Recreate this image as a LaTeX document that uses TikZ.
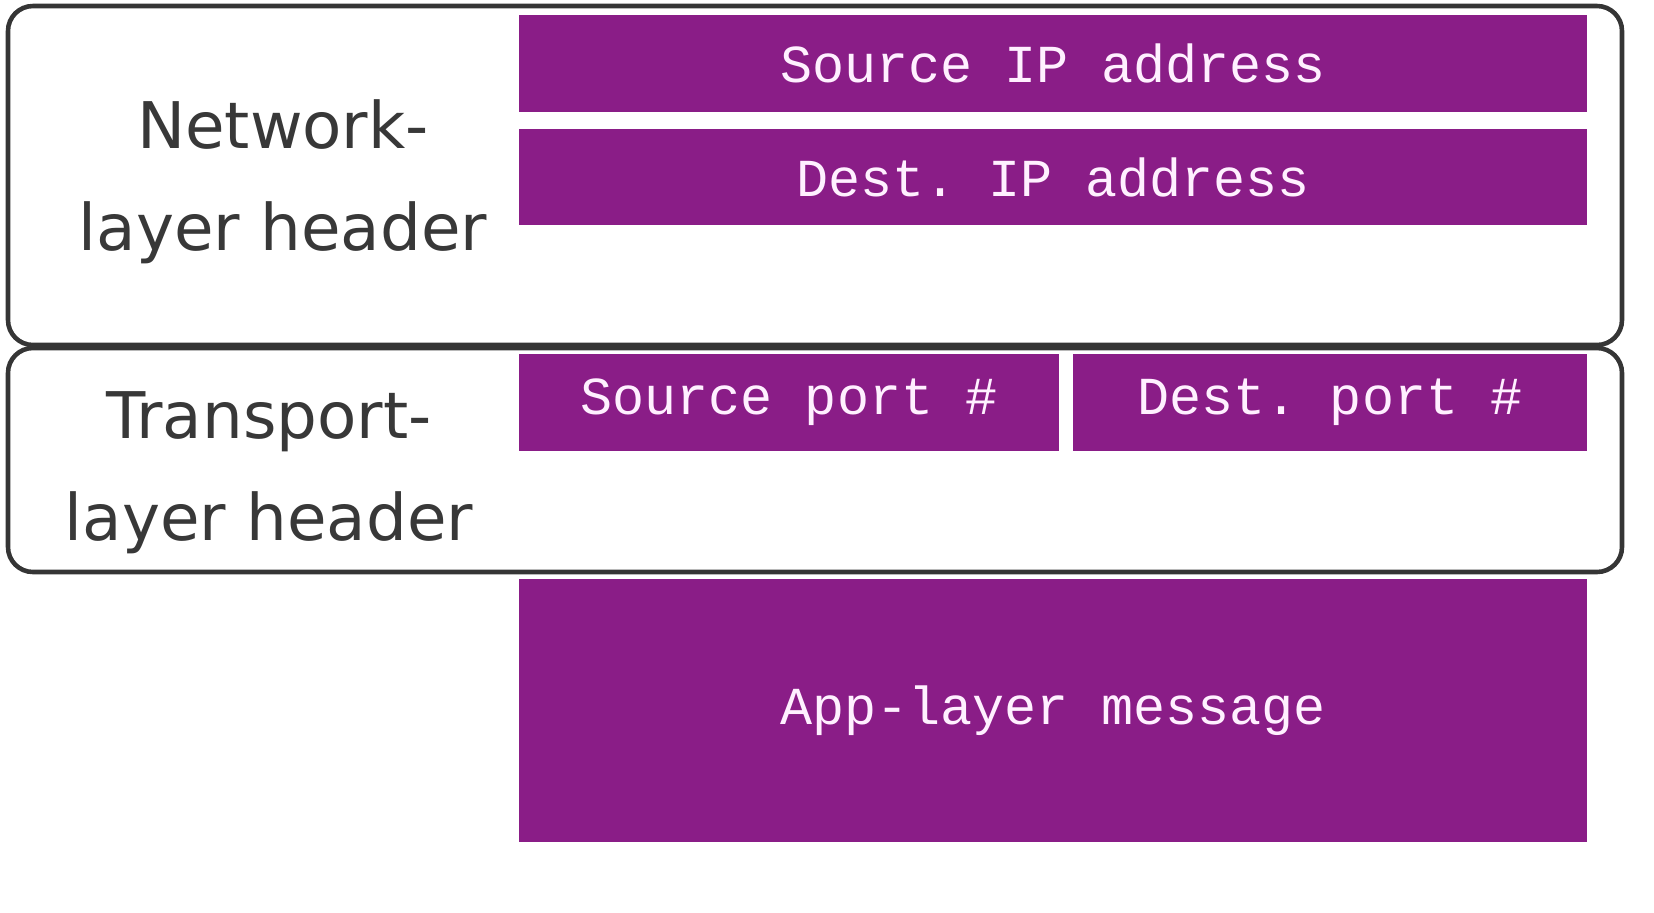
\documentclass[tikz,border=0pt]{standalone}
\usepackage{fontspec}
\setmonofont{Liberation Mono}
\newfontfamily\labelfont{DejaVu Sans}
\definecolor{fieldpurple}{HTML}{8A1D87}
\definecolor{fieldtext}{HTML}{FFF0FF}
\definecolor{boxline}{HTML}{353535}
\definecolor{labeltext}{HTML}{383838}
\begin{document}
\begin{tikzpicture}[y=-1cm,
        field/.style={fill=fieldpurple,text=fieldtext,inner sep=0pt,
            font=\ttfamily\fontsize{15.2}{18}\selectfont},
        header/.style={draw=boxline,line width=1.3pt,rounded corners=.25cm,inner sep=0pt},
        hdrlabel/.style={text=labeltext,align=center,
            font=\labelfont\fontsize{18.3}{29}\selectfont}]
        \useasboundingbox (0,0) rectangle (16.54,9.12);
        % header frames
        \node[header,minimum width=16.14cm,minimum height=3.39cm] (net) at (8.15,1.755) {};
        \node[header,minimum width=16.14cm,minimum height=2.24cm] (trans) at (8.15,4.60) {};
        \node[hdrlabel] (netlabel) at (2.83,1.82) {Network-\\layer header};
        \node[hdrlabel] (translabel) at (2.69,4.73) {Transport-\\layer header};
        % fields
        \node[field,minimum width=10.68cm,minimum height=.97cm] (srcip) at (10.53,.635) {Source IP address};
        \node[field,minimum width=10.68cm,minimum height=.96cm] (dstip) at (10.53,1.77) {Dest. IP address};
        \node[field,minimum width=5.40cm,minimum height=.97cm] (srcport) at (7.89,4.025) {Source port \#};
        \node[field,minimum width=5.14cm,minimum height=.97cm] (dstport) at (13.30,4.025) {Dest. port \#};
        \node[field,minimum width=10.68cm,minimum height=2.63cm] (appmsg) at (10.53,7.105) {App-layer message};
    \end{tikzpicture}
\end{document}
